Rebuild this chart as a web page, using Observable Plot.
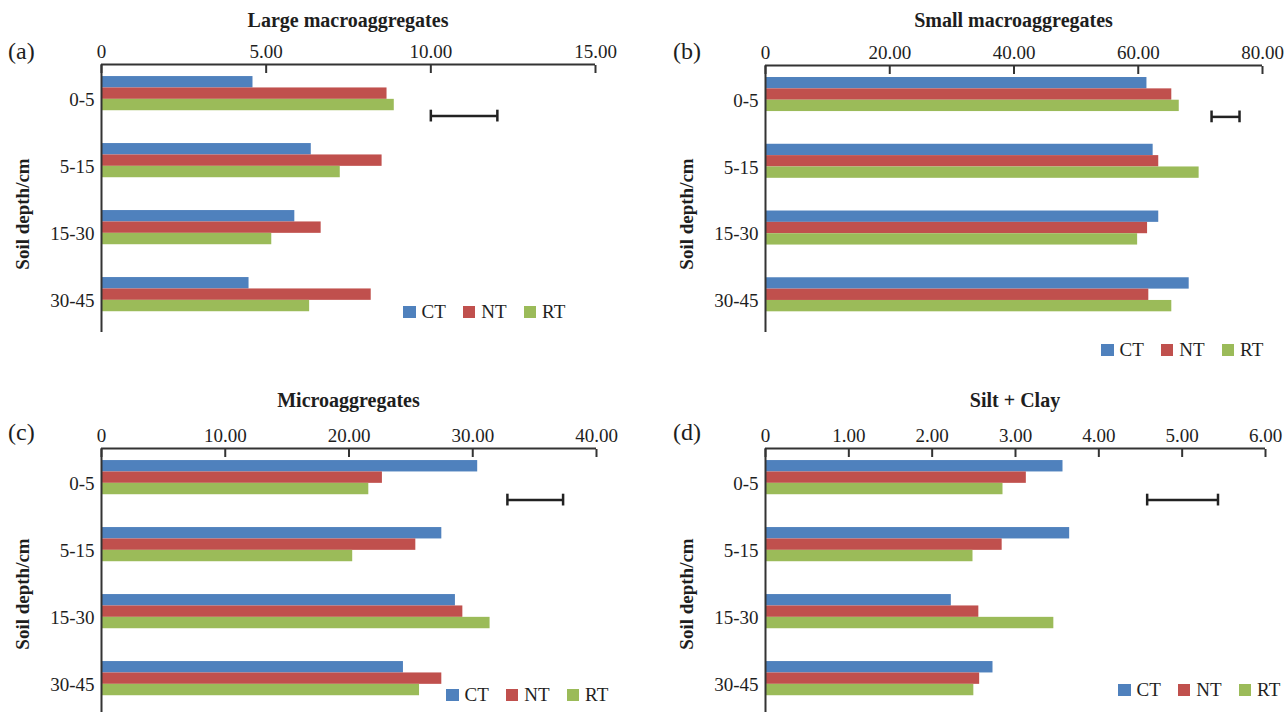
<!DOCTYPE html>
<html>
<head>
<meta charset="utf-8">
<script src="https://cdn.jsdelivr.net/npm/d3@7"></script>
<script src="https://cdn.jsdelivr.net/npm/@observablehq/plot@0.6"></script>
<style>
  body { margin: 0; background: #fff; overflow: hidden; }
  #page { position: relative; width: 1287px; height: 712px; overflow: hidden;
          font-family: "Liberation Serif", "Times New Roman", serif; color: #1e1e1e; background: #fff; }
  .panel { position: absolute; }
  .title { position: absolute; font-weight: bold; font-size: 20px; line-height: 20px; white-space: nowrap; transform: translateX(-50%); }
  .plabel { position: absolute; font-size: 24px; line-height: 24px; white-space: nowrap; }
  .ytitle { position: absolute; font-weight: bold; font-size: 19px; line-height: 20px; white-space: nowrap;
            transform: translate(-50%, -50%) rotate(-90deg); }
  .legend { position: absolute; display: flex; align-items: center; font-size: 19px; line-height: 20px; white-space: nowrap; }
  .legend .item { display: flex; align-items: center; margin-right: 17px; }
  .legend .sw { width: 12.5px; height: 12.5px; margin-right: 6px; }
</style>
</head>
<body>
<div id="page"></div>
<script>
// ---------- data ----------
const depths = ["0-5", "5-15", "15-30", "30-45"];
const treatments = ["CT", "NT", "RT"];
const colors = ["#4F81BD", "#C0504D", "#9BBB59"];

const panelTitles = ["Large macroaggregates", "Small macroaggregates", "Microaggregates", "Silt + Clay"];
const panelLabels = ["(a)", "(b)", "(c)", "(d)"];
const yTitle = "Soil depth/cm";

const largeCT = [4.60, 6.37, 5.87, 4.48];
const largeNT = [8.67, 8.52, 6.67, 8.19];
const largeRT = [8.89, 7.25, 5.17, 6.32];

const smallCT = [61.4, 62.4, 63.3, 68.2];
const smallNT = [65.4, 63.3, 61.5, 61.7];
const smallRT = [66.6, 69.8, 59.9, 65.4];

const microCT = [30.4, 27.5, 28.6, 24.4];
const microNT = [22.7, 25.4, 29.2, 27.5];
const microRT = [21.6, 20.3, 31.4, 25.7];

const siltCT = [3.57, 3.65, 2.23, 2.73];
const siltNT = [3.13, 2.84, 2.56, 2.57];
const siltRT = [2.85, 2.49, 3.46, 2.50];

// LSD bars [start, end]
const largeLSD = [10.0, 12.02];
const smallLSD = [71.8, 76.3];
const microLSD = [32.8, 37.3];
const siltLSD = [4.58, 5.43];

const largeTicks = [0, 5, 10, 15];
const smallTicks = [0, 20, 40, 60, 80];
const microTicks = [0, 10, 20, 30, 40];
const siltTicks = [0, 1, 2, 3, 4, 5, 6];

// ---------- layout / style ----------
const GAP = 0.18, BAR = 0.17, LSD_Y = 0.77, CAP = 0.088;
const axisColor = "#333";
const font = '"Liberation Serif", "Times New Roman", serif';

const panels = [
  {series: [largeCT, largeNT, largeRT], lsd: largeLSD, ticks: largeTicks,
   left: 0, top: 0, width: 640, height: 360, mt: 64, mb: 28, ml: 101, mr: 45,
   legend: [403, 312]},
  {series: [smallCT, smallNT, smallRT], lsd: smallLSD, ticks: smallTicks,
   left: 640, top: 0, width: 647, height: 360, mt: 65, mb: 28, ml: 125, mr: 25,
   legend: [1101, 350]},
  {series: [microCT, microNT, microRT], lsd: microLSD, ticks: microTicks,
   left: 0, top: 380, width: 640, height: 340, mt: 68, mb: 4, ml: 101, mr: 44,
   legend: [446, 695]},
  {series: [siltCT, siltNT, siltRT], lsd: siltLSD, ticks: siltTicks,
   left: 640, top: 380, width: 647, height: 340, mt: 68, mb: 4, ml: 125, mr: 22,
   legend: [1118, 690]}
];

const page = document.getElementById("page");
const fmt = v => v === 0 ? "0" : v.toFixed(2);

panels.forEach((cfg, p) => {
  const rows = [];
  depths.forEach((d, i) => treatments.forEach((t, k) =>
    rows.push({depth: d, trt: t, value: cfg.series[k][i], i, k})));
  const xmax = cfg.ticks[cfg.ticks.length - 1];

  const chart = Plot.plot({
    width: cfg.width, height: cfg.height,
    marginTop: cfg.mt, marginBottom: cfg.mb, marginLeft: cfg.ml, marginRight: cfg.mr,
    style: {fontFamily: font, fontSize: "19px", color: "#1e1e1e", background: "transparent", overflow: "visible"},
    x: {domain: [0, xmax], axis: null},
    y: {domain: [0, 4], reverse: true, axis: null},
    color: {domain: treatments, range: colors},
    marks: [
      Plot.rect(rows, {
        x1: 0, x2: "value",
        y1: d => d.i + GAP + d.k * BAR,
        y2: d => d.i + GAP + (d.k + 1) * BAR,
        fill: "trt"
      }),
      Plot.ruleY([0], {stroke: axisColor, strokeWidth: 2}),
      Plot.ruleX([0], {stroke: axisColor, strokeWidth: 2}),
      Plot.axisX(cfg.ticks, {anchor: "top", label: null, tickSize: -8, tickPadding: 15, tickFormat: fmt,
        stroke: axisColor, strokeWidth: 2, fill: "#1e1e1e", fontSize: 19}),
      Plot.axisY(depths.map((d, i) => i + 0.5), {anchor: "left", label: null, tickSize: 0, tickPadding: 7,
        tickFormat: v => depths[Math.floor(v)], fill: "#1e1e1e", fontSize: 19, dy: 2}),
      Plot.ruleY([cfg.lsd], {x1: d => d[0], x2: d => d[1], y: LSD_Y, stroke: "#222", strokeWidth: 2.5}),
      Plot.ruleX(cfg.lsd, {x: d => d, y1: LSD_Y - CAP, y2: LSD_Y + CAP, stroke: "#222", strokeWidth: 2.5})
    ]
  });

  const div = document.createElement("div");
  div.className = "panel";
  div.style.left = cfg.left + "px";
  div.style.top = cfg.top + "px";
  div.appendChild(chart);
  page.appendChild(div);

  const plotCenter = cfg.left + cfg.ml + (cfg.width - cfg.ml - cfg.mr) / 2;

  const title = document.createElement("div");
  title.className = "title";
  title.textContent = panelTitles[p];
  title.style.left = plotCenter + "px";
  title.style.top = (cfg.top + 10) + "px";
  page.appendChild(title);

  const lab = document.createElement("div");
  lab.className = "plabel";
  lab.textContent = panelLabels[p];
  lab.style.left = (cfg.left + (p % 2 ? 33 : 8)) + "px";
  lab.style.top = (cfg.top + 39 + (p >= 2 ? 1 : 0)) + "px";
  page.appendChild(lab);

  const yt = document.createElement("div");
  yt.className = "ytitle";
  yt.textContent = yTitle;
  yt.style.left = (cfg.left + (p % 2 ? 47 : 23)) + "px";
  yt.style.top = (cfg.top + 214) + "px";
  page.appendChild(yt);

  const lg = document.createElement("div");
  lg.className = "legend";
  lg.style.left = cfg.legend[0] + "px";
  lg.style.top = (cfg.legend[1] - 10) + "px";
  treatments.forEach((t, k) => {
    const it = document.createElement("div");
    it.className = "item";
    const sw = document.createElement("div");
    sw.className = "sw";
    sw.style.background = colors[k];
    const tx = document.createElement("span");
    tx.textContent = t;
    it.appendChild(sw); it.appendChild(tx);
    lg.appendChild(it);
  });
  page.appendChild(lg);
});
</script>
</body>
</html>
